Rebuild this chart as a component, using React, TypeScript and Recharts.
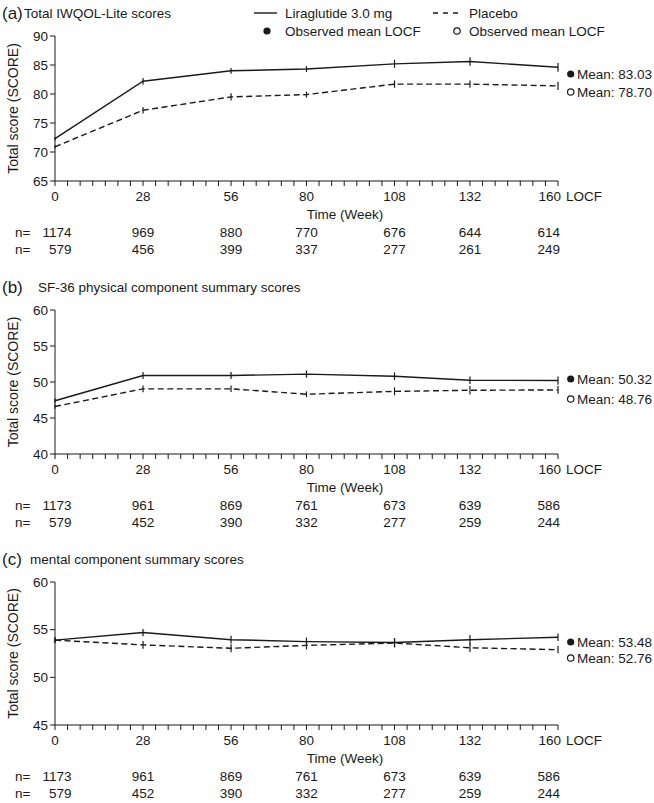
import React from 'react';
import { LineChart, Line, XAxis, YAxis, ErrorBar } from 'recharts';

// ---- data ----
const weeks = [0, 28, 56, 80, 108, 132, 160];
const weekTicks = [0, 4, 8, 12, 16, 20, 24, 28, 32, 36, 40, 44, 48, 52, 56, 60, 64, 68, 72, 76, 80, 84, 88, 92, 96, 100, 104, 108, 112, 116, 120, 124, 128, 132, 136, 140, 144, 148, 152, 156, 160];

const aLira = [72.3, 82.2, 84.0, 84.3, 85.2, 85.6, 84.6];
const aPlac = [70.9, 77.2, 79.5, 79.9, 81.7, 81.7, 81.4];
const aLiraErr = [0.3, 0.55, 0.5, 0.5, 0.7, 0.72, 0.75];
const aPlacErr = [0.3, 0.57, 0.63, 0.52, 0.63, 0.63, 0.72];
const aNLira = [1174, 969, 880, 770, 676, 644, 614];
const aNPlac = [579, 456, 399, 337, 277, 261, 249];
const aYTicks = [65, 70, 75, 80, 85, 90];
const aMeans = ['83.03', '78.70'];

const bLira = [47.4, 50.9, 50.9, 51.1, 50.8, 50.25, 50.2];
const bPlac = [46.6, 49.05, 49.05, 48.3, 48.7, 48.85, 48.9];
const bLiraErr = [0.3, 0.5, 0.5, 0.5, 0.53, 0.53, 0.58];
const bPlacErr = [0.3, 0.46, 0.45, 0.4, 0.55, 0.6, 0.53];
const bNLira = [1173, 961, 869, 761, 673, 639, 586];
const bNPlac = [579, 452, 390, 332, 277, 259, 244];
const bYTicks = [40, 45, 50, 55, 60];
const bMeans = ['50.32', '48.76'];

const cLira = [53.9, 54.7, 53.95, 53.75, 53.65, 53.95, 54.2];
const cPlac = [53.9, 53.4, 53.05, 53.35, 53.6, 53.1, 52.9];
const cLiraErr = [0.3, 0.38, 0.4, 0.42, 0.47, 0.5, 0.4];
const cPlacErr = [0.3, 0.4, 0.42, 0.42, 0.47, 0.44, 0.38];
const cNLira = [1173, 961, 869, 761, 673, 639, 586];
const cNPlac = [579, 452, 390, 332, 277, 259, 244];
const cYTicks = [45, 50, 55, 60];
const cMeans = ['53.48', '52.76'];

const seriesNames = ['Liraglutide 3.0 mg', 'Placebo'];

// ---- styling ----
const FONT = '"Liberation Sans", Arial, Helvetica, sans-serif';
const INK = '#1a1a1a';
const FS = 13.5;
const PLOT_TOP = 36;
const Y_AXIS_W = 55;
const RIGHT = 96;

function buildRows(lira: number[], plac: number[], le: number[], pe: number[]) {
  return weeks.map((w, i) => ({ week: w, lira: lira[i], plac: plac[i], liraErr: le[i], placErr: pe[i] }));
}

function makeTick(nLira: number[], nPlac: number[]) {
  return (props: any) => {
    const { x, y, payload } = props;
    const v = payload.value;
    const idx = weeks.indexOf(v);
    if (idx < 0) return <g />;
    const first = idx === 0;
    const last = idx === weeks.length - 1;
    const anchor = first || last ? 'end' : 'middle';
    const nx = first ? x + 16.5 : last ? x + 2 : x;
    const cy = y + 4.8;
    const common = { fontSize: FS, fill: INK, fontFamily: FONT, dominantBaseline: 'central' as any };
    return (
      <g>
        {last ? (
          <>
            <text x={x + 3} y={cy} textAnchor="end" {...common}>{v}</text>
            <text x={x + 8} y={cy} textAnchor="start" {...common}>LOCF</text>
          </>
        ) : (
          <text x={x} y={cy} textAnchor="middle" {...common}>{v}</text>
        )}
        <text x={nx} y={cy + 36} textAnchor={anchor} {...common}>{nLira[idx]}</text>
        <text x={nx} y={cy + 52.5} textAnchor={anchor} {...common}>{nPlac[idx]}</text>
        {first && (
          <>
            <text x={15} y={cy + 36} textAnchor="start" {...common}>n=</text>
            <text x={15} y={cy + 52.5} textAnchor="start" {...common}>n=</text>
          </>
        )}
      </g>
    );
  };
}

type PanelProps = {
  letter: string;
  title: string;
  titleX: number;
  lira: number[];
  plac: number[];
  liraErr: number[];
  placErr: number[];
  nLira: number[];
  nPlac: number[];
  yTicks: number[];
  means: string[];
  meanY: number[];
  chartH: number;
  plotH: number;
  legend?: boolean;
};

function Panel(p: PanelProps) {
  const rows = buildRows(p.lira, p.plac, p.liraErr, p.placErr);
  const xAxisH = 30;
  const bottom = p.chartH - PLOT_TOP - p.plotH - xAxisH;
  const plotBottom = PLOT_TOP + p.plotH;
  const txt = { fill: INK, fontFamily: FONT, dominantBaseline: 'central' as any };
  return (
    <LineChart
      width={654}
      height={p.chartH}
      data={rows}
      margin={{ top: PLOT_TOP, right: RIGHT, left: 0, bottom }}
    >
      <XAxis
        dataKey="week"
        type="number"
        domain={[0, 160]}
        ticks={weekTicks}
        interval={0}
        tickSize={5}
        tickMargin={6}
        height={xAxisH}
        stroke={INK}
        tickLine={{ stroke: INK }}
        axisLine={{ stroke: INK }}
        tick={makeTick(p.nLira, p.nPlac)}
      />
      <YAxis
        type="number"
        domain={[p.yTicks[0], p.yTicks[p.yTicks.length - 1]]}
        ticks={p.yTicks}
        interval={0}
        width={Y_AXIS_W}
        tickSize={5}
        tickMargin={2}
        stroke={INK}
        tick={{ fontSize: FS, fill: INK, fontFamily: FONT }}
      />
      <Line
        dataKey="lira"
        name={seriesNames[0]}
        stroke={INK}
        strokeWidth={1.4}
        dot={false}
        activeDot={false}
        isAnimationActive={false}
      >
        <ErrorBar dataKey="liraErr" width={0} stroke={INK} strokeWidth={1.2} isAnimationActive={false} />
      </Line>
      <Line
        dataKey="plac"
        name={seriesNames[1]}
        stroke={INK}
        strokeWidth={1.4}
        strokeDasharray="6 3.5"
        dot={false}
        activeDot={false}
        isAnimationActive={false}
      >
        <ErrorBar dataKey="placErr" width={0} stroke={INK} strokeWidth={1.2} isAnimationActive={false} />
      </Line>

      {/* panel title */}
      <text x={2} y={13} fontSize={17} {...txt}>{`(${p.letter})`}</text>
      <text x={p.titleX} y={13} fontSize={FS} {...txt}>{p.title}</text>

      {/* y axis title */}
      <text
        transform={`translate(13, ${PLOT_TOP + p.plotH / 2}) rotate(-90)`}
        textAnchor="middle"
        fontSize={14}
        {...txt}
      >
        Total score (SCORE)
      </text>

      {/* x axis title */}
      <text x={345} y={plotBottom + 33} textAnchor="middle" fontSize={FS} {...txt}>Time (Week)</text>

      {/* mean annotations */}
      <circle cx={570.7} cy={p.meanY[0]} r={3.6} fill={INK} />
      <text x={577} y={p.meanY[0]} fontSize={FS} {...txt}>{`Mean: ${p.means[0]}`}</text>
      <circle cx={570.7} cy={p.meanY[1]} r={3.2} fill="#fff" stroke={INK} strokeWidth={1.2} />
      <text x={577} y={p.meanY[1]} fontSize={FS} {...txt}>{`Mean: ${p.means[1]}`}</text>

      {p.legend && (
        <g>
          <line x1={254} x2={277} y1={13} y2={13} stroke={INK} strokeWidth={1.4} />
          <text x={285} y={13} fontSize={FS} {...txt}>{seriesNames[0]}</text>
          <line x1={433} x2={459} y1={13} y2={13} stroke={INK} strokeWidth={1.4} strokeDasharray="5 5" />
          <text x={469} y={13} fontSize={FS} {...txt}>{seriesNames[1]}</text>
          <circle cx={267} cy={31} r={3.6} fill={INK} />
          <text x={285} y={31} fontSize={FS} {...txt}>Observed mean LOCF</text>
          <circle cx={457} cy={31} r={3.2} fill="#fff" stroke={INK} strokeWidth={1.2} />
          <text x={469} y={31} fontSize={FS} {...txt}>Observed mean LOCF</text>
        </g>
      )}
    </LineChart>
  );
}

export default function App() {
  return (
    <div style={{ position: 'absolute', left: 0, top: 0, width: 654, height: 803, background: '#fff' }}>
      <div style={{ position: 'absolute', left: 0, top: 0 }}>
        <Panel
          letter="a"
          title="Total IWQOL-Lite scores"
          titleX={24}
          lira={aLira}
          plac={aPlac}
          liraErr={aLiraErr}
          placErr={aPlacErr}
          nLira={aNLira}
          nPlac={aNPlac}
          yTicks={aYTicks}
          means={aMeans}
          meanY={[74, 92]}
          chartH={274}
          plotH={145}
          legend
        />
      </div>
      <div style={{ position: 'absolute', left: 0, top: 274 }}>
        <Panel
          letter="b"
          title="SF-36 physical component summary scores"
          titleX={38}
          lira={bLira}
          plac={bPlac}
          liraErr={bLiraErr}
          placErr={bPlacErr}
          nLira={bNLira}
          nPlac={bNPlac}
          yTicks={bYTicks}
          means={bMeans}
          meanY={[105, 125]}
          chartH={272}
          plotH={144}
        />
      </div>
      <div style={{ position: 'absolute', left: 0, top: 546 }}>
        <Panel
          letter="c"
          title="mental component summary scores"
          titleX={30}
          lira={cLira}
          plac={cPlac}
          liraErr={cLiraErr}
          placErr={cPlacErr}
          nLira={cNLira}
          nPlac={cNPlac}
          yTicks={cYTicks}
          means={cMeans}
          meanY={[96, 112]}
          chartH={257}
          plotH={143}
        />
      </div>
    </div>
  );
}
